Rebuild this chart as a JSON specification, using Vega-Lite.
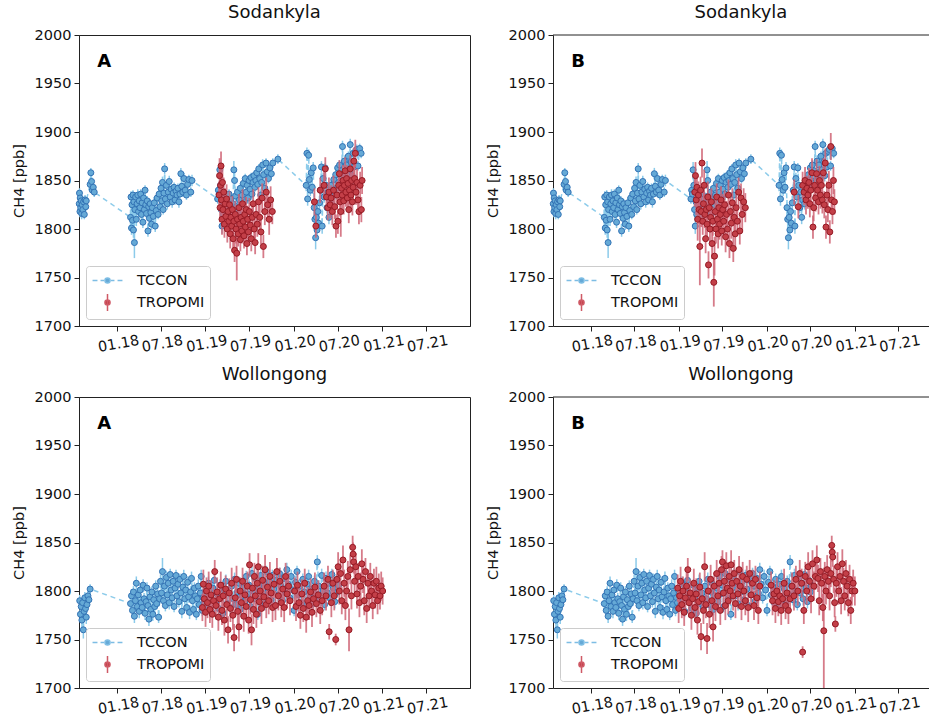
{
  "$schema": "https://vega.github.io/schema/vega-lite/v6.json",
  "padding": {"left": 10, "top": 3, "right": 0, "bottom": 0},
  "config": {
    "font": "DejaVu Sans",
    "view": {"stroke": "#222222", "strokeWidth": 1},
    "axis": {
      "grid": false,
      "domainColor": "#222222",
      "tickColor": "#222222",
      "labelColor": "#111111",
      "titleColor": "#111111",
      "labelFont": "DejaVu Sans",
      "titleFont": "DejaVu Sans",
      "labelFontSize": 14.5,
      "titleFontSize": 14.5,
      "titleFontWeight": "normal",
      "tickSize": 5
    },
    "title": {"font": "DejaVu Sans", "fontSize": 18, "fontWeight": "normal", "color": "#111111", "offset": 5},
    "legend": {
      "title": null, "orient": "bottom-left", "offset": 7, "padding": 5, "rowPadding": 4, "symbolSize": 289, "symbolOffset": 7, "labelOffset": 20,
      "labelFontSize": 14.5, "labelFont": "DejaVu Sans", "labelColor": "#111111", "fillColor": "#ffffff", "strokeColor": "#cccccc", "cornerRadius": 3,
      "symbolStrokeWidth": 1.5, "symbolOpacity": 1
    }
  },
  "datasets": {
    "sod_tccon": [
      {"d":"2017-07-29","v":1826,"e":6},{"d":"2017-07-30","v":1837,"e":5},{"d":"2017-08-01","v":1818,"e":6},{"d":"2017-08-02","v":1832,"e":5},
      {"d":"2017-08-04","v":1822,"e":7},{"d":"2017-08-06","v":1829,"e":5},{"d":"2017-08-08","v":1816,"e":6},{"d":"2017-08-10","v":1825,"e":5},
      {"d":"2017-08-13","v":1820,"e":6},{"d":"2017-08-16","v":1828,"e":4},{"d":"2017-08-19","v":1815,"e":5},{"d":"2017-08-22","v":1830,"e":5},
      {"d":"2017-08-25","v":1823,"e":5},{"d":"2017-08-27","v":1829,"e":4},
      {"d":"2017-09-12","v":1846,"e":6},{"d":"2017-09-15","v":1858,"e":5},{"d":"2017-09-18","v":1849,"e":5},{"d":"2017-09-21","v":1840,"e":4},
      {"d":"2017-09-25","v":1843,"e":6},{"d":"2017-09-29","v":1838,"e":5},
      {"d":"2018-02-26","v":1812,"e":8},{"d":"2018-02-28","v":1833,"e":6},{"d":"2018-03-02","v":1801,"e":7},{"d":"2018-03-04","v":1825,"e":6},
      {"d":"2018-03-06","v":1809,"e":9},{"d":"2018-03-08","v":1835,"e":5},{"d":"2018-03-10","v":1799,"e":8},{"d":"2018-03-12","v":1828,"e":6},
      {"d":"2018-03-14","v":1786,"e":16},{"d":"2018-03-16","v":1820,"e":7},{"d":"2018-03-19","v":1833,"e":5},{"d":"2018-03-22","v":1810,"e":7},
      {"d":"2018-03-25","v":1826,"e":5},{"d":"2018-03-28","v":1835,"e":6},{"d":"2018-03-31","v":1818,"e":6},{"d":"2018-04-03","v":1829,"e":5},
      {"d":"2018-04-06","v":1822,"e":6},{"d":"2018-04-09","v":1836,"e":5},{"d":"2018-04-12","v":1815,"e":6},{"d":"2018-04-15","v":1827,"e":5},
      {"d":"2018-04-18","v":1807,"e":6},{"d":"2018-04-21","v":1832,"e":5},{"d":"2018-04-24","v":1820,"e":5},{"d":"2018-04-27","v":1840,"e":5},
      {"d":"2018-04-30","v":1825,"e":6},{"d":"2018-05-03","v":1816,"e":5},{"d":"2018-05-06","v":1829,"e":5},{"d":"2018-05-09","v":1798,"e":6},
      {"d":"2018-05-12","v":1823,"e":5},{"d":"2018-05-15","v":1811,"e":6},{"d":"2018-05-18","v":1826,"e":5},{"d":"2018-05-21","v":1817,"e":5},
      {"d":"2018-05-24","v":1805,"e":6},{"d":"2018-05-27","v":1822,"e":5},{"d":"2018-05-31","v":1813,"e":5},{"d":"2018-06-04","v":1827,"e":6},
      {"d":"2018-06-08","v":1803,"e":6},{"d":"2018-06-12","v":1819,"e":5},{"d":"2018-06-16","v":1832,"e":6},{"d":"2018-06-20","v":1815,"e":5},
      {"d":"2018-06-24","v":1836,"e":5},{"d":"2018-06-28","v":1823,"e":6},{"d":"2018-07-02","v":1842,"e":6},{"d":"2018-07-05","v":1829,"e":5},
      {"d":"2018-07-08","v":1848,"e":6},{"d":"2018-07-11","v":1820,"e":5},{"d":"2018-07-14","v":1837,"e":5},{"d":"2018-07-17","v":1862,"e":6},
      {"d":"2018-07-20","v":1831,"e":5},{"d":"2018-07-24","v":1845,"e":5},{"d":"2018-07-28","v":1826,"e":6},{"d":"2018-08-01","v":1838,"e":5},
      {"d":"2018-08-05","v":1849,"e":6},{"d":"2018-08-09","v":1833,"e":5},{"d":"2018-08-13","v":1841,"e":5},{"d":"2018-08-17","v":1828,"e":6},
      {"d":"2018-08-21","v":1837,"e":5},{"d":"2018-08-25","v":1843,"e":5},{"d":"2018-08-29","v":1830,"e":5},{"d":"2018-09-02","v":1839,"e":5},
      {"d":"2018-09-06","v":1835,"e":5},{"d":"2018-09-10","v":1842,"e":5},{"d":"2018-09-14","v":1828,"e":6},{"d":"2018-09-18","v":1836,"e":5},
      {"d":"2018-09-22","v":1857,"e":6},{"d":"2018-09-26","v":1844,"e":5},{"d":"2018-09-30","v":1838,"e":5},{"d":"2018-10-05","v":1852,"e":6},
      {"d":"2018-10-10","v":1840,"e":5},{"d":"2018-10-15","v":1835,"e":5},{"d":"2018-10-20","v":1846,"e":5},{"d":"2018-10-25","v":1851,"e":5},
      {"d":"2018-11-02","v":1838,"e":5},{"d":"2018-11-07","v":1850,"e":6},
      {"d":"2019-02-21","v":1831,"e":5},{"d":"2019-02-24","v":1840,"e":6},{"d":"2019-02-27","v":1836,"e":5},{"d":"2019-03-02","v":1861,"e":8},
      {"d":"2019-03-05","v":1845,"e":6},{"d":"2019-03-08","v":1820,"e":7},{"d":"2019-03-11","v":1803,"e":8},{"d":"2019-03-14","v":1828,"e":6},
      {"d":"2019-03-17","v":1815,"e":7},{"d":"2019-03-20","v":1836,"e":6},{"d":"2019-03-24","v":1825,"e":6},{"d":"2019-03-28","v":1833,"e":5},
      {"d":"2019-04-01","v":1812,"e":7},{"d":"2019-04-05","v":1829,"e":6},{"d":"2019-04-09","v":1836,"e":5},{"d":"2019-04-13","v":1822,"e":6},
      {"d":"2019-04-17","v":1831,"e":5},{"d":"2019-04-21","v":1818,"e":6},{"d":"2019-04-25","v":1826,"e":5},{"d":"2019-04-29","v":1861,"e":9},
      {"d":"2019-05-02","v":1850,"e":8},{"d":"2019-05-06","v":1834,"e":6},{"d":"2019-05-10","v":1823,"e":5},{"d":"2019-05-14","v":1838,"e":6},
      {"d":"2019-05-18","v":1816,"e":6},{"d":"2019-05-22","v":1830,"e":5},{"d":"2019-05-26","v":1842,"e":5},{"d":"2019-05-30","v":1825,"e":6},
      {"d":"2019-06-03","v":1835,"e":5},{"d":"2019-06-07","v":1847,"e":5},{"d":"2019-06-11","v":1828,"e":6},{"d":"2019-06-15","v":1852,"e":5},
      {"d":"2019-06-19","v":1838,"e":5},{"d":"2019-06-23","v":1845,"e":5},{"d":"2019-06-27","v":1832,"e":6},{"d":"2019-07-01","v":1850,"e":5},
      {"d":"2019-07-05","v":1841,"e":5},{"d":"2019-07-09","v":1853,"e":5},{"d":"2019-07-13","v":1836,"e":6},{"d":"2019-07-17","v":1848,"e":5},
      {"d":"2019-07-21","v":1855,"e":5},{"d":"2019-07-25","v":1843,"e":5},{"d":"2019-07-29","v":1850,"e":5},{"d":"2019-08-02","v":1858,"e":5},
      {"d":"2019-08-06","v":1846,"e":5},{"d":"2019-08-10","v":1862,"e":5},{"d":"2019-08-14","v":1852,"e":5},{"d":"2019-08-18","v":1835,"e":6},
      {"d":"2019-08-22","v":1848,"e":5},{"d":"2019-08-26","v":1866,"e":6},{"d":"2019-08-30","v":1856,"e":5},{"d":"2019-09-04","v":1842,"e":6},
      {"d":"2019-09-09","v":1868,"e":5},{"d":"2019-09-14","v":1859,"e":5},{"d":"2019-09-19","v":1852,"e":5},{"d":"2019-09-25","v":1863,"e":5},
      {"d":"2019-10-01","v":1857,"e":5},{"d":"2019-10-07","v":1868,"e":5},{"d":"2019-10-28","v":1872,"e":5},
      {"d":"2020-02-22","v":1845,"e":6},{"d":"2020-02-25","v":1878,"e":6},{"d":"2020-02-28","v":1831,"e":7},{"d":"2020-03-03","v":1876,"e":6},
      {"d":"2020-03-06","v":1851,"e":6},{"d":"2020-03-10","v":1840,"e":6},{"d":"2020-03-14","v":1858,"e":7},{"d":"2020-03-18","v":1843,"e":7},
      {"d":"2020-03-22","v":1863,"e":6},{"d":"2020-03-26","v":1822,"e":8},{"d":"2020-03-29","v":1810,"e":10},{"d":"2020-04-01","v":1791,"e":12},
      {"d":"2020-04-04","v":1812,"e":9},{"d":"2020-04-07","v":1799,"e":10},{"d":"2020-04-10","v":1818,"e":8},{"d":"2020-04-13","v":1806,"e":9},
      {"d":"2020-04-17","v":1827,"e":7},{"d":"2020-04-21","v":1840,"e":6},{"d":"2020-04-25","v":1864,"e":6},{"d":"2020-04-28","v":1803,"e":8},
      {"d":"2020-05-02","v":1852,"e":6},{"d":"2020-05-06","v":1833,"e":6},{"d":"2020-05-10","v":1863,"e":5},{"d":"2020-05-14","v":1845,"e":6},
      {"d":"2020-05-18","v":1822,"e":6},{"d":"2020-05-22","v":1838,"e":6},{"d":"2020-05-26","v":1812,"e":7},{"d":"2020-05-30","v":1830,"e":6},
      {"d":"2020-06-03","v":1845,"e":5},{"d":"2020-06-07","v":1826,"e":6},{"d":"2020-06-11","v":1840,"e":5},{"d":"2020-06-15","v":1851,"e":6},
      {"d":"2020-06-19","v":1835,"e":5},{"d":"2020-06-23","v":1856,"e":5},{"d":"2020-06-27","v":1842,"e":6},{"d":"2020-07-01","v":1863,"e":5},
      {"d":"2020-07-05","v":1848,"e":6},{"d":"2020-07-09","v":1866,"e":5},{"d":"2020-07-13","v":1855,"e":5},{"d":"2020-07-17","v":1860,"e":6},
      {"d":"2020-07-21","v":1885,"e":6},{"d":"2020-07-25","v":1849,"e":5},{"d":"2020-07-29","v":1870,"e":6},{"d":"2020-08-02","v":1858,"e":5},
      {"d":"2020-08-06","v":1866,"e":5},{"d":"2020-08-10","v":1852,"e":6},{"d":"2020-08-14","v":1875,"e":5},{"d":"2020-08-18","v":1861,"e":5},
      {"d":"2020-08-22","v":1887,"e":6},{"d":"2020-08-26","v":1869,"e":5},{"d":"2020-08-30","v":1855,"e":6},{"d":"2020-09-03","v":1878,"e":5},
      {"d":"2020-09-08","v":1864,"e":5},{"d":"2020-09-13","v":1880,"e":5},{"d":"2020-09-18","v":1882,"e":5},{"d":"2020-09-23","v":1865,"e":5},
      {"d":"2020-09-30","v":1883,"e":5},{"d":"2020-10-06","v":1878,"e":5}
    ],
    "sod_a": [
      {"d":"2019-02-27","v":1835,"e":14},{"d":"2019-03-01","v":1855,"e":18},{"d":"2019-03-03","v":1822,"e":15},{"d":"2019-03-05","v":1845,"e":16},
      {"d":"2019-03-07","v":1865,"e":15},{"d":"2019-03-09","v":1830,"e":14},{"d":"2019-03-11","v":1810,"e":16},{"d":"2019-03-13","v":1848,"e":18},
      {"d":"2019-03-15","v":1820,"e":14},{"d":"2019-03-18","v":1838,"e":15},{"d":"2019-03-21","v":1805,"e":14},{"d":"2019-03-24","v":1826,"e":16},
      {"d":"2019-03-27","v":1813,"e":13},{"d":"2019-03-30","v":1831,"e":15},{"d":"2019-04-02","v":1800,"e":14},{"d":"2019-04-05","v":1818,"e":16},
      {"d":"2019-04-08","v":1808,"e":15},{"d":"2019-04-11","v":1825,"e":14},{"d":"2019-04-14","v":1795,"e":15},{"d":"2019-04-17","v":1812,"e":13},
      {"d":"2019-04-20","v":1803,"e":16},{"d":"2019-04-23","v":1820,"e":14},{"d":"2019-04-26","v":1790,"e":14},{"d":"2019-04-29","v":1808,"e":15},
      {"d":"2019-05-02","v":1778,"e":12},{"d":"2019-05-05","v":1815,"e":14},{"d":"2019-05-08","v":1800,"e":15},{"d":"2019-05-11","v":1775,"e":28},
      {"d":"2019-05-14","v":1810,"e":14},{"d":"2019-05-17","v":1795,"e":13},{"d":"2019-05-20","v":1822,"e":14},{"d":"2019-05-23","v":1805,"e":15},
      {"d":"2019-05-26","v":1789,"e":12},{"d":"2019-05-29","v":1812,"e":14},{"d":"2019-06-01","v":1798,"e":13},{"d":"2019-06-04","v":1826,"e":15},
      {"d":"2019-06-07","v":1808,"e":14},{"d":"2019-06-10","v":1793,"e":13},{"d":"2019-06-13","v":1815,"e":14},{"d":"2019-06-16","v":1802,"e":15},
      {"d":"2019-06-19","v":1820,"e":13},{"d":"2019-06-22","v":1785,"e":12},{"d":"2019-06-25","v":1810,"e":14},{"d":"2019-06-28","v":1797,"e":13},
      {"d":"2019-07-02","v":1818,"e":14},{"d":"2019-07-06","v":1804,"e":15},{"d":"2019-07-10","v":1790,"e":13},{"d":"2019-07-14","v":1812,"e":14},
      {"d":"2019-07-18","v":1826,"e":15},{"d":"2019-07-22","v":1800,"e":14},{"d":"2019-07-26","v":1786,"e":12},{"d":"2019-07-30","v":1815,"e":14},
      {"d":"2019-08-04","v":1805,"e":13},{"d":"2019-08-09","v":1828,"e":15},{"d":"2019-08-14","v":1812,"e":14},{"d":"2019-08-19","v":1797,"e":13},
      {"d":"2019-08-24","v":1832,"e":15},{"d":"2019-08-29","v":1782,"e":12},{"d":"2019-09-04","v":1818,"e":14},{"d":"2019-09-10","v":1838,"e":15},
      {"d":"2019-09-16","v":1825,"e":14},{"d":"2019-09-22","v":1810,"e":16},{"d":"2019-09-28","v":1830,"e":14},{"d":"2019-10-05","v":1818,"e":13},
      {"d":"2020-03-27","v":1828,"e":14},{"d":"2020-04-02","v":1803,"e":12},{"d":"2020-04-20","v":1840,"e":13},{"d":"2020-05-06","v":1845,"e":14},
      {"d":"2020-05-11","v":1862,"e":12},{"d":"2020-05-16","v":1833,"e":14},{"d":"2020-05-21","v":1822,"e":13},{"d":"2020-05-26","v":1838,"e":15},
      {"d":"2020-05-31","v":1825,"e":14},{"d":"2020-06-04","v":1832,"e":13},{"d":"2020-06-09","v":1818,"e":14},{"d":"2020-06-14","v":1840,"e":15},
      {"d":"2020-06-19","v":1823,"e":13},{"d":"2020-06-24","v":1803,"e":12},{"d":"2020-06-28","v":1835,"e":14},{"d":"2020-07-02","v":1808,"e":13},
      {"d":"2020-07-05","v":1845,"e":15},{"d":"2020-07-08","v":1857,"e":14},{"d":"2020-07-11","v":1828,"e":15},{"d":"2020-07-14","v":1818,"e":26},
      {"d":"2020-07-17","v":1842,"e":15},{"d":"2020-07-20","v":1835,"e":14},{"d":"2020-07-23","v":1850,"e":16},{"d":"2020-07-26","v":1829,"e":14},
      {"d":"2020-07-29","v":1845,"e":15},{"d":"2020-08-01","v":1860,"e":14},{"d":"2020-08-04","v":1838,"e":15},{"d":"2020-08-07","v":1852,"e":14},
      {"d":"2020-08-10","v":1832,"e":13},{"d":"2020-08-13","v":1847,"e":15},{"d":"2020-08-16","v":1820,"e":14},{"d":"2020-08-19","v":1840,"e":15},
      {"d":"2020-08-22","v":1862,"e":14},{"d":"2020-08-25","v":1835,"e":13},{"d":"2020-08-28","v":1850,"e":15},{"d":"2020-08-31","v":1828,"e":14},
      {"d":"2020-09-03","v":1843,"e":15},{"d":"2020-09-06","v":1870,"e":14},{"d":"2020-09-09","v":1852,"e":15},{"d":"2020-09-12","v":1878,"e":14},
      {"d":"2020-09-15","v":1838,"e":13},{"d":"2020-09-19","v":1848,"e":14},{"d":"2020-09-23","v":1830,"e":15},{"d":"2020-09-27","v":1818,"e":13},
      {"d":"2020-10-02","v":1845,"e":14},{"d":"2020-10-07","v":1820,"e":13},{"d":"2020-10-10","v":1850,"e":14}
    ],
    "sod_b": [
      {"d":"2019-03-09","v":1838,"e":15},{"d":"2019-03-12","v":1855,"e":14},{"d":"2019-03-15","v":1830,"e":16},{"d":"2019-03-18","v":1843,"e":15},
      {"d":"2019-03-21","v":1810,"e":22},{"d":"2019-03-24","v":1835,"e":14},{"d":"2019-03-27","v":1820,"e":15},{"d":"2019-03-30","v":1782,"e":40},
      {"d":"2019-04-02","v":1840,"e":14},{"d":"2019-04-05","v":1818,"e":16},{"d":"2019-04-08","v":1868,"e":15},{"d":"2019-04-11","v":1808,"e":14},
      {"d":"2019-04-14","v":1826,"e":15},{"d":"2019-04-17","v":1845,"e":16},{"d":"2019-04-20","v":1815,"e":14},{"d":"2019-04-23","v":1790,"e":15},
      {"d":"2019-04-26","v":1820,"e":14},{"d":"2019-04-29","v":1805,"e":15},{"d":"2019-05-02","v":1833,"e":16},{"d":"2019-05-05","v":1763,"e":14},
      {"d":"2019-05-08","v":1822,"e":15},{"d":"2019-05-11","v":1800,"e":14},{"d":"2019-05-14","v":1812,"e":16},{"d":"2019-05-17","v":1828,"e":14},
      {"d":"2019-05-20","v":1785,"e":16},{"d":"2019-05-23","v":1808,"e":15},{"d":"2019-05-27","v":1745,"e":25},{"d":"2019-05-30","v":1772,"e":20},
      {"d":"2019-06-02","v":1818,"e":16},{"d":"2019-06-05","v":1800,"e":15},{"d":"2019-06-08","v":1833,"e":14},{"d":"2019-06-11","v":1810,"e":16},
      {"d":"2019-06-14","v":1795,"e":15},{"d":"2019-06-17","v":1822,"e":14},{"d":"2019-06-20","v":1805,"e":16},{"d":"2019-06-23","v":1815,"e":15},
      {"d":"2019-06-26","v":1830,"e":14},{"d":"2019-06-29","v":1798,"e":15},{"d":"2019-07-03","v":1820,"e":16},{"d":"2019-07-07","v":1808,"e":14},
      {"d":"2019-07-11","v":1825,"e":15},{"d":"2019-07-15","v":1792,"e":16},{"d":"2019-07-19","v":1815,"e":14},{"d":"2019-07-23","v":1800,"e":15},
      {"d":"2019-07-27","v":1835,"e":16},{"d":"2019-07-31","v":1785,"e":15},{"d":"2019-08-04","v":1818,"e":14},{"d":"2019-08-08","v":1806,"e":16},
      {"d":"2019-08-12","v":1827,"e":15},{"d":"2019-08-16","v":1780,"e":14},{"d":"2019-08-20","v":1812,"e":15},{"d":"2019-08-24","v":1795,"e":16},
      {"d":"2019-08-28","v":1822,"e":15},{"d":"2019-09-02","v":1808,"e":14},{"d":"2019-09-07","v":1838,"e":15},{"d":"2019-09-12","v":1798,"e":14},
      {"d":"2019-09-17","v":1832,"e":15},{"d":"2019-09-22","v":1815,"e":16},{"d":"2019-09-28","v":1828,"e":14},{"d":"2019-10-05","v":1822,"e":15},
      {"d":"2020-04-25","v":1838,"e":13},{"d":"2020-05-12","v":1823,"e":12},{"d":"2020-05-30","v":1845,"e":14},{"d":"2020-06-05","v":1838,"e":13},
      {"d":"2020-06-09","v":1850,"e":14},{"d":"2020-06-13","v":1830,"e":15},{"d":"2020-06-17","v":1842,"e":13},{"d":"2020-06-21","v":1835,"e":14},
      {"d":"2020-06-25","v":1848,"e":15},{"d":"2020-06-29","v":1826,"e":14},{"d":"2020-07-03","v":1840,"e":13},{"d":"2020-07-08","v":1858,"e":15},
      {"d":"2020-07-12","v":1802,"e":12},{"d":"2020-07-15","v":1822,"e":14},{"d":"2020-07-19","v":1845,"e":15},{"d":"2020-07-23","v":1832,"e":14},
      {"d":"2020-07-27","v":1857,"e":15},{"d":"2020-07-31","v":1840,"e":14},{"d":"2020-08-04","v":1828,"e":13},{"d":"2020-08-08","v":1850,"e":15},
      {"d":"2020-08-12","v":1835,"e":14},{"d":"2020-08-16","v":1845,"e":15},{"d":"2020-08-20","v":1830,"e":14},{"d":"2020-08-24","v":1858,"e":15},
      {"d":"2020-08-28","v":1825,"e":14},{"d":"2020-09-01","v":1868,"e":15},{"d":"2020-09-04","v":1802,"e":12},{"d":"2020-09-08","v":1835,"e":14},
      {"d":"2020-09-12","v":1820,"e":13},{"d":"2020-09-16","v":1845,"e":15},{"d":"2020-09-20","v":1797,"e":12},{"d":"2020-09-24","v":1885,"e":14},
      {"d":"2020-09-27","v":1830,"e":14},{"d":"2020-10-01","v":1818,"e":13},{"d":"2020-10-05","v":1850,"e":14},{"d":"2020-10-09","v":1828,"e":13}
    ],
    "wol_tccon": [
      {"d":"2017-07-31","v":1790,"e":6},{"d":"2017-08-03","v":1776,"e":7},{"d":"2017-08-06","v":1784,"e":6},{"d":"2017-08-09","v":1770,"e":8},
      {"d":"2017-08-12","v":1788,"e":6},{"d":"2017-08-15","v":1760,"e":9},{"d":"2017-08-18","v":1779,"e":7},{"d":"2017-08-21","v":1793,"e":6},
      {"d":"2017-08-24","v":1782,"e":6},{"d":"2017-08-27","v":1773,"e":7},{"d":"2017-08-30","v":1786,"e":6},{"d":"2017-09-03","v":1795,"e":5},
      {"d":"2017-09-07","v":1791,"e":5},{"d":"2017-09-12","v":1802,"e":5},
      {"d":"2018-02-26","v":1787,"e":6},{"d":"2018-03-02","v":1795,"e":7},{"d":"2018-03-06","v":1780,"e":6},{"d":"2018-03-10","v":1799,"e":6},
      {"d":"2018-03-14","v":1774,"e":7},{"d":"2018-03-18","v":1790,"e":6},{"d":"2018-03-22","v":1808,"e":7},{"d":"2018-03-26","v":1784,"e":6},
      {"d":"2018-03-30","v":1796,"e":6},{"d":"2018-04-03","v":1779,"e":7},{"d":"2018-04-07","v":1801,"e":6},{"d":"2018-04-11","v":1788,"e":6},
      {"d":"2018-04-15","v":1783,"e":7},{"d":"2018-04-19","v":1806,"e":6},{"d":"2018-04-23","v":1792,"e":6},{"d":"2018-04-27","v":1777,"e":7},
      {"d":"2018-05-01","v":1789,"e":6},{"d":"2018-05-05","v":1803,"e":6},{"d":"2018-05-09","v":1785,"e":6},{"d":"2018-05-13","v":1771,"e":7},
      {"d":"2018-05-17","v":1794,"e":6},{"d":"2018-05-21","v":1781,"e":6},{"d":"2018-05-25","v":1799,"e":6},{"d":"2018-05-29","v":1776,"e":7},
      {"d":"2018-06-02","v":1791,"e":6},{"d":"2018-06-06","v":1784,"e":6},{"d":"2018-06-10","v":1805,"e":6},{"d":"2018-06-14","v":1787,"e":6},
      {"d":"2018-06-18","v":1797,"e":7},{"d":"2018-06-22","v":1773,"e":6},{"d":"2018-06-26","v":1792,"e":6},{"d":"2018-06-30","v":1810,"e":7},
      {"d":"2018-07-04","v":1798,"e":6},{"d":"2018-07-08","v":1820,"e":14},{"d":"2018-07-12","v":1790,"e":6},{"d":"2018-07-16","v":1805,"e":7},
      {"d":"2018-07-20","v":1785,"e":6},{"d":"2018-07-24","v":1814,"e":7},{"d":"2018-07-28","v":1796,"e":6},{"d":"2018-08-01","v":1808,"e":6},
      {"d":"2018-08-05","v":1788,"e":7},{"d":"2018-08-09","v":1817,"e":6},{"d":"2018-08-13","v":1801,"e":6},{"d":"2018-08-17","v":1793,"e":7},
      {"d":"2018-08-21","v":1810,"e":6},{"d":"2018-08-25","v":1784,"e":6},{"d":"2018-08-29","v":1803,"e":7},{"d":"2018-09-02","v":1816,"e":6},
      {"d":"2018-09-06","v":1795,"e":6},{"d":"2018-09-10","v":1807,"e":7},{"d":"2018-09-14","v":1789,"e":6},{"d":"2018-09-18","v":1812,"e":6},
      {"d":"2018-09-22","v":1798,"e":6},{"d":"2018-09-26","v":1779,"e":7},{"d":"2018-09-30","v":1804,"e":6},{"d":"2018-10-04","v":1815,"e":7},
      {"d":"2018-10-08","v":1792,"e":6},{"d":"2018-10-12","v":1801,"e":6},{"d":"2018-10-16","v":1783,"e":7},{"d":"2018-10-20","v":1809,"e":6},
      {"d":"2018-10-24","v":1794,"e":6},{"d":"2018-10-28","v":1778,"e":7},{"d":"2018-11-01","v":1799,"e":6},{"d":"2018-11-05","v":1813,"e":7},
      {"d":"2018-11-09","v":1790,"e":6},{"d":"2018-11-13","v":1781,"e":6},{"d":"2018-11-17","v":1803,"e":6},{"d":"2018-11-21","v":1795,"e":7},
      {"d":"2018-11-25","v":1776,"e":6},{"d":"2018-11-29","v":1792,"e":6},{"d":"2018-12-03","v":1805,"e":7},{"d":"2018-12-07","v":1786,"e":6},
      {"d":"2018-12-11","v":1798,"e":6},{"d":"2018-12-15","v":1815,"e":7},{"d":"2018-12-19","v":1780,"e":6},{"d":"2018-12-23","v":1793,"e":6},
      {"d":"2018-12-27","v":1788,"e":7},{"d":"2019-01-02","v":1800,"e":6},{"d":"2019-01-08","v":1785,"e":6},{"d":"2019-01-14","v":1808,"e":7},
      {"d":"2019-01-20","v":1792,"e":6},{"d":"2019-01-26","v":1779,"e":6},{"d":"2019-02-01","v":1803,"e":7},{"d":"2019-02-07","v":1811,"e":6},
      {"d":"2019-02-13","v":1789,"e":6},{"d":"2019-02-19","v":1797,"e":7},{"d":"2019-02-25","v":1782,"e":6},{"d":"2019-03-03","v":1806,"e":6},
      {"d":"2019-03-09","v":1794,"e":6},{"d":"2019-03-15","v":1777,"e":7},{"d":"2019-03-21","v":1801,"e":6},{"d":"2019-03-27","v":1810,"e":7},
      {"d":"2019-04-02","v":1787,"e":6},{"d":"2019-04-08","v":1798,"e":6},{"d":"2019-04-14","v":1783,"e":7},{"d":"2019-04-20","v":1805,"e":6},
      {"d":"2019-04-26","v":1792,"e":6},{"d":"2019-05-02","v":1812,"e":7},{"d":"2019-05-08","v":1786,"e":6},{"d":"2019-05-14","v":1799,"e":6},
      {"d":"2019-05-20","v":1808,"e":7},{"d":"2019-05-26","v":1781,"e":6},{"d":"2019-06-01","v":1795,"e":6},{"d":"2019-06-07","v":1803,"e":7},
      {"d":"2019-06-13","v":1789,"e":6},{"d":"2019-06-19","v":1815,"e":6},{"d":"2019-06-25","v":1797,"e":7},{"d":"2019-07-01","v":1806,"e":6},
      {"d":"2019-07-07","v":1784,"e":6},{"d":"2019-07-13","v":1818,"e":7},{"d":"2019-07-19","v":1800,"e":6},{"d":"2019-07-25","v":1792,"e":6},
      {"d":"2019-07-31","v":1812,"e":7},{"d":"2019-08-06","v":1776,"e":6},{"d":"2019-08-12","v":1803,"e":6},{"d":"2019-08-18","v":1816,"e":7},
      {"d":"2019-08-24","v":1795,"e":6},{"d":"2019-08-30","v":1808,"e":6},{"d":"2019-09-05","v":1787,"e":7},{"d":"2019-09-11","v":1820,"e":6},
      {"d":"2019-09-17","v":1799,"e":6},{"d":"2019-09-23","v":1810,"e":7},{"d":"2019-09-29","v":1791,"e":6},{"d":"2019-10-05","v":1816,"e":6},
      {"d":"2019-10-11","v":1802,"e":7},{"d":"2019-10-17","v":1785,"e":6},{"d":"2019-10-23","v":1811,"e":6},{"d":"2019-10-29","v":1796,"e":7},
      {"d":"2019-11-04","v":1818,"e":6},{"d":"2019-11-10","v":1805,"e":6},{"d":"2019-11-16","v":1790,"e":7},{"d":"2019-11-22","v":1813,"e":6},
      {"d":"2019-11-28","v":1798,"e":6},{"d":"2019-12-04","v":1822,"e":7},{"d":"2019-12-10","v":1807,"e":6},{"d":"2019-12-16","v":1793,"e":6},
      {"d":"2019-12-22","v":1815,"e":7},{"d":"2019-12-28","v":1801,"e":6},{"d":"2020-01-03","v":1780,"e":6},{"d":"2020-01-09","v":1809,"e":7},
      {"d":"2020-01-15","v":1820,"e":6},{"d":"2020-01-21","v":1796,"e":6},{"d":"2020-01-27","v":1805,"e":7},{"d":"2020-02-02","v":1788,"e":6},
      {"d":"2020-02-08","v":1812,"e":6},{"d":"2020-02-14","v":1799,"e":7},{"d":"2020-02-20","v":1784,"e":6},{"d":"2020-02-26","v":1807,"e":6},
      {"d":"2020-03-03","v":1815,"e":7},{"d":"2020-03-09","v":1793,"e":6},{"d":"2020-03-15","v":1802,"e":6},{"d":"2020-03-21","v":1787,"e":7},
      {"d":"2020-03-27","v":1810,"e":6},{"d":"2020-04-02","v":1797,"e":6},{"d":"2020-04-08","v":1830,"e":7},{"d":"2020-04-14","v":1805,"e":6},
      {"d":"2020-04-20","v":1791,"e":6},{"d":"2020-04-26","v":1816,"e":7},{"d":"2020-05-02","v":1800,"e":6},{"d":"2020-05-08","v":1786,"e":6},
      {"d":"2020-05-14","v":1813,"e":7},{"d":"2020-05-20","v":1798,"e":6},{"d":"2020-05-26","v":1808,"e":6},{"d":"2020-06-01","v":1792,"e":7},
      {"d":"2020-06-07","v":1817,"e":6},{"d":"2020-06-13","v":1803,"e":6},{"d":"2020-06-19","v":1789,"e":7},{"d":"2020-06-25","v":1811,"e":6},
      {"d":"2020-07-01","v":1799,"e":6},{"d":"2020-07-05","v":1806,"e":6}
    ],
    "wol_a": [
      {"d":"2018-12-20","v":1783,"e":14},{"d":"2018-12-24","v":1807,"e":15},{"d":"2018-12-28","v":1792,"e":14},{"d":"2019-01-02","v":1778,"e":15},
      {"d":"2019-01-06","v":1800,"e":14},{"d":"2019-01-10","v":1788,"e":16},{"d":"2019-01-15","v":1805,"e":15},{"d":"2019-01-20","v":1781,"e":14},
      {"d":"2019-01-25","v":1796,"e":15},{"d":"2019-01-30","v":1776,"e":14},{"d":"2019-02-04","v":1790,"e":15},{"d":"2019-02-09","v":1820,"e":12},
      {"d":"2019-02-14","v":1785,"e":14},{"d":"2019-02-19","v":1799,"e":15},{"d":"2019-02-24","v":1773,"e":14},{"d":"2019-03-01","v":1792,"e":15},
      {"d":"2019-03-06","v":1806,"e":14},{"d":"2019-03-11","v":1780,"e":15},{"d":"2019-03-16","v":1795,"e":14},{"d":"2019-03-21","v":1770,"e":16},
      {"d":"2019-03-26","v":1802,"e":14},{"d":"2019-03-31","v":1786,"e":15},{"d":"2019-04-05","v":1760,"e":14},{"d":"2019-04-10","v":1798,"e":15},
      {"d":"2019-04-15","v":1782,"e":14},{"d":"2019-04-20","v":1808,"e":16},{"d":"2019-04-25","v":1775,"e":15},{"d":"2019-04-30","v":1752,"e":14},
      {"d":"2019-05-05","v":1793,"e":15},{"d":"2019-05-10","v":1812,"e":14},{"d":"2019-05-15","v":1779,"e":16},{"d":"2019-05-20","v":1763,"e":15},
      {"d":"2019-05-25","v":1800,"e":14},{"d":"2019-05-30","v":1788,"e":15},{"d":"2019-06-04","v":1810,"e":14},{"d":"2019-06-09","v":1774,"e":16},
      {"d":"2019-06-14","v":1796,"e":15},{"d":"2019-06-19","v":1784,"e":14},{"d":"2019-06-24","v":1805,"e":15},{"d":"2019-06-29","v":1770,"e":14},
      {"d":"2019-07-03","v":1827,"e":12},{"d":"2019-07-07","v":1791,"e":15},{"d":"2019-07-11","v":1760,"e":16},{"d":"2019-07-15","v":1803,"e":14},
      {"d":"2019-07-19","v":1781,"e":15},{"d":"2019-07-23","v":1815,"e":14},{"d":"2019-07-27","v":1795,"e":15},{"d":"2019-07-31","v":1776,"e":14},
      {"d":"2019-08-04","v":1808,"e":15},{"d":"2019-08-08","v":1825,"e":14},{"d":"2019-08-12","v":1789,"e":15},{"d":"2019-08-16","v":1800,"e":14},
      {"d":"2019-08-21","v":1782,"e":16},{"d":"2019-08-26","v":1811,"e":15},{"d":"2019-08-31","v":1794,"e":14},{"d":"2019-09-05","v":1822,"e":15},
      {"d":"2019-09-10","v":1786,"e":14},{"d":"2019-09-15","v":1804,"e":15},{"d":"2019-09-20","v":1790,"e":14},{"d":"2019-09-25","v":1815,"e":15},
      {"d":"2019-09-30","v":1798,"e":14},{"d":"2019-10-06","v":1783,"e":15},{"d":"2019-10-12","v":1807,"e":14},{"d":"2019-10-18","v":1785,"e":15},
      {"d":"2019-10-24","v":1820,"e":14},{"d":"2019-10-30","v":1795,"e":15},{"d":"2019-11-05","v":1810,"e":14},{"d":"2019-11-11","v":1788,"e":15},
      {"d":"2019-11-17","v":1802,"e":14},{"d":"2019-11-23","v":1783,"e":15},{"d":"2019-11-29","v":1815,"e":14},{"d":"2019-12-05","v":1797,"e":15},
      {"d":"2019-12-11","v":1805,"e":14},{"d":"2019-12-17","v":1790,"e":15},{"d":"2020-01-05","v":1800,"e":14},{"d":"2020-01-11","v":1784,"e":15},
      {"d":"2020-01-17","v":1806,"e":14},{"d":"2020-01-23","v":1788,"e":15},{"d":"2020-01-29","v":1775,"e":14},{"d":"2020-02-04","v":1797,"e":15},
      {"d":"2020-02-10","v":1782,"e":14},{"d":"2020-02-16","v":1808,"e":15},{"d":"2020-02-22","v":1773,"e":16},{"d":"2020-02-28","v":1790,"e":14},
      {"d":"2020-03-05","v":1785,"e":15},{"d":"2020-03-11","v":1799,"e":14},{"d":"2020-03-17","v":1778,"e":15},{"d":"2020-03-23","v":1792,"e":14},
      {"d":"2020-03-29","v":1804,"e":15},{"d":"2020-04-04","v":1787,"e":14},{"d":"2020-04-12","v":1796,"e":15},{"d":"2020-04-20","v":1780,"e":14},
      {"d":"2020-04-28","v":1790,"e":15},{"d":"2020-05-06","v":1805,"e":14},{"d":"2020-05-14","v":1795,"e":15},{"d":"2020-05-22","v":1812,"e":14},
      {"d":"2020-05-27","v":1758,"e":8},{"d":"2020-06-05","v":1788,"e":15},{"d":"2020-06-11","v":1808,"e":14},{"d":"2020-06-17","v":1795,"e":15},
      {"d":"2020-06-23","v":1750,"e":6},{"d":"2020-06-28","v":1812,"e":14},{"d":"2020-07-03","v":1825,"e":15},{"d":"2020-07-08","v":1800,"e":14},
      {"d":"2020-07-13","v":1818,"e":15},{"d":"2020-07-18","v":1790,"e":14},{"d":"2020-07-23","v":1832,"e":15},{"d":"2020-07-28","v":1808,"e":14},
      {"d":"2020-08-02","v":1785,"e":15},{"d":"2020-08-07","v":1800,"e":14},{"d":"2020-08-12","v":1815,"e":16},{"d":"2020-08-17","v":1760,"e":22},
      {"d":"2020-08-22","v":1822,"e":15},{"d":"2020-08-27","v":1795,"e":14},{"d":"2020-09-01","v":1845,"e":12},{"d":"2020-09-03","v":1838,"e":12},
      {"d":"2020-09-05","v":1830,"e":12},{"d":"2020-09-09","v":1810,"e":15},{"d":"2020-09-14","v":1825,"e":14},{"d":"2020-09-19","v":1797,"e":15},
      {"d":"2020-09-24","v":1815,"e":14},{"d":"2020-09-29","v":1788,"e":15},{"d":"2020-10-04","v":1805,"e":14},{"d":"2020-10-09","v":1828,"e":15},
      {"d":"2020-10-14","v":1812,"e":14},{"d":"2020-10-19","v":1790,"e":15},{"d":"2020-10-24","v":1820,"e":14},{"d":"2020-10-29","v":1782,"e":15},
      {"d":"2020-11-03","v":1808,"e":14},{"d":"2020-11-08","v":1795,"e":15},{"d":"2020-11-13","v":1815,"e":14},{"d":"2020-11-18","v":1800,"e":15},
      {"d":"2020-11-23","v":1785,"e":14},{"d":"2020-11-28","v":1808,"e":15},{"d":"2020-12-03","v":1796,"e":14},{"d":"2020-12-08","v":1810,"e":15},
      {"d":"2020-12-13","v":1790,"e":14},{"d":"2020-12-18","v":1803,"e":15},{"d":"2020-12-23","v":1795,"e":14},{"d":"2020-12-28","v":1805,"e":15},
      {"d":"2021-01-03","v":1800,"e":14}
    ],
    "wol_b": [
      {"d":"2018-12-28","v":1803,"e":14},{"d":"2019-01-01","v":1782,"e":15},{"d":"2019-01-05","v":1795,"e":14},{"d":"2019-01-09","v":1810,"e":15},
      {"d":"2019-01-14","v":1786,"e":14},{"d":"2019-01-19","v":1800,"e":15},{"d":"2019-01-24","v":1778,"e":14},{"d":"2019-01-29","v":1793,"e":15},
      {"d":"2019-02-03","v":1805,"e":14},{"d":"2019-02-08","v":1822,"e":12},{"d":"2019-02-13","v":1788,"e":15},{"d":"2019-02-18","v":1798,"e":14},
      {"d":"2019-02-23","v":1775,"e":15},{"d":"2019-02-28","v":1792,"e":14},{"d":"2019-03-05","v":1808,"e":15},{"d":"2019-03-10","v":1783,"e":14},
      {"d":"2019-03-15","v":1797,"e":16},{"d":"2019-03-20","v":1770,"e":15},{"d":"2019-03-25","v":1789,"e":14},{"d":"2019-03-30","v":1804,"e":15},
      {"d":"2019-04-04","v":1753,"e":14},{"d":"2019-04-09","v":1792,"e":15},{"d":"2019-04-14","v":1780,"e":14},{"d":"2019-04-19","v":1825,"e":15},
      {"d":"2019-04-24","v":1786,"e":14},{"d":"2019-04-29","v":1751,"e":16},{"d":"2019-05-04","v":1800,"e":15},{"d":"2019-05-09","v":1776,"e":14},
      {"d":"2019-05-14","v":1812,"e":15},{"d":"2019-05-19","v":1790,"e":14},{"d":"2019-05-24","v":1763,"e":15},{"d":"2019-05-29","v":1805,"e":14},
      {"d":"2019-06-03","v":1784,"e":15},{"d":"2019-06-08","v":1818,"e":14},{"d":"2019-06-13","v":1795,"e":15},{"d":"2019-06-18","v":1808,"e":14},
      {"d":"2019-06-23","v":1780,"e":15},{"d":"2019-06-28","v":1822,"e":14},{"d":"2019-07-02","v":1830,"e":12},{"d":"2019-07-06","v":1798,"e":15},
      {"d":"2019-07-10","v":1810,"e":14},{"d":"2019-07-14","v":1785,"e":15},{"d":"2019-07-18","v":1826,"e":14},{"d":"2019-07-22","v":1803,"e":15},
      {"d":"2019-07-26","v":1790,"e":14},{"d":"2019-07-30","v":1815,"e":15},{"d":"2019-08-03","v":1800,"e":14},{"d":"2019-08-07","v":1827,"e":15},
      {"d":"2019-08-11","v":1808,"e":14},{"d":"2019-08-15","v":1795,"e":15},{"d":"2019-08-20","v":1818,"e":14},{"d":"2019-08-25","v":1787,"e":15},
      {"d":"2019-08-30","v":1810,"e":14},{"d":"2019-09-04","v":1797,"e":15},{"d":"2019-09-09","v":1822,"e":14},{"d":"2019-09-14","v":1805,"e":15},
      {"d":"2019-09-19","v":1784,"e":14},{"d":"2019-09-24","v":1815,"e":15},{"d":"2019-09-29","v":1800,"e":14},{"d":"2019-10-05","v":1790,"e":15},
      {"d":"2019-10-11","v":1812,"e":14},{"d":"2019-10-17","v":1783,"e":15},{"d":"2019-10-23","v":1818,"e":14},{"d":"2019-10-29","v":1796,"e":15},
      {"d":"2019-11-04","v":1808,"e":14},{"d":"2019-11-10","v":1785,"e":15},{"d":"2019-11-16","v":1812,"e":14},{"d":"2019-11-22","v":1793,"e":15},
      {"d":"2019-11-28","v":1780,"e":14},{"d":"2019-12-04","v":1805,"e":15},{"d":"2020-01-20","v":1806,"e":14},{"d":"2020-01-26","v":1790,"e":15},
      {"d":"2020-02-01","v":1797,"e":14},{"d":"2020-02-07","v":1782,"e":15},{"d":"2020-02-13","v":1800,"e":14},{"d":"2020-02-19","v":1789,"e":15},
      {"d":"2020-02-25","v":1795,"e":14},{"d":"2020-03-02","v":1780,"e":15},{"d":"2020-03-08","v":1792,"e":14},{"d":"2020-03-14","v":1808,"e":15},
      {"d":"2020-03-20","v":1785,"e":14},{"d":"2020-03-26","v":1798,"e":15},{"d":"2020-04-01","v":1780,"e":14},{"d":"2020-04-08","v":1792,"e":15},
      {"d":"2020-04-16","v":1805,"e":14},{"d":"2020-04-24","v":1795,"e":15},{"d":"2020-05-02","v":1812,"e":14},{"d":"2020-05-10","v":1800,"e":15},
      {"d":"2020-05-18","v":1818,"e":14},{"d":"2020-05-26","v":1808,"e":15},{"d":"2020-05-30","v":1737,"e":6},{"d":"2020-06-04","v":1780,"e":14},
      {"d":"2020-06-10","v":1815,"e":15},{"d":"2020-06-16","v":1800,"e":14},{"d":"2020-06-22","v":1825,"e":15},{"d":"2020-06-28","v":1810,"e":14},
      {"d":"2020-07-04","v":1792,"e":15},{"d":"2020-07-10","v":1828,"e":14},{"d":"2020-07-16","v":1805,"e":15},{"d":"2020-07-22","v":1815,"e":14},
      {"d":"2020-07-28","v":1832,"e":15},{"d":"2020-08-02","v":1813,"e":14},{"d":"2020-08-07","v":1790,"e":15},{"d":"2020-08-12","v":1820,"e":14},
      {"d":"2020-08-17","v":1808,"e":15},{"d":"2020-08-22","v":1783,"e":14},{"d":"2020-08-26","v":1759,"e":65},{"d":"2020-08-30","v":1815,"e":15},
      {"d":"2020-09-04","v":1800,"e":14},{"d":"2020-09-09","v":1822,"e":15},{"d":"2020-09-14","v":1810,"e":14},{"d":"2020-09-19","v":1795,"e":15},
      {"d":"2020-09-24","v":1818,"e":14},{"d":"2020-09-28","v":1847,"e":10},{"d":"2020-09-30","v":1840,"e":10},{"d":"2020-10-02","v":1835,"e":10},
      {"d":"2020-10-06","v":1812,"e":14},{"d":"2020-10-10","v":1788,"e":15},{"d":"2020-10-13","v":1766,"e":8},{"d":"2020-10-17","v":1808,"e":14},
      {"d":"2020-10-22","v":1825,"e":15},{"d":"2020-10-27","v":1800,"e":14},{"d":"2020-11-01","v":1815,"e":15},{"d":"2020-11-06","v":1790,"e":14},
      {"d":"2020-11-11","v":1828,"e":15},{"d":"2020-11-16","v":1810,"e":14},{"d":"2020-11-21","v":1795,"e":15},{"d":"2020-11-26","v":1818,"e":14},
      {"d":"2020-12-01","v":1805,"e":15},{"d":"2020-12-06","v":1788,"e":14},{"d":"2020-12-11","v":1812,"e":15},{"d":"2020-12-16","v":1780,"e":14},
      {"d":"2020-12-21","v":1800,"e":15},{"d":"2020-12-26","v":1808,"e":14},{"d":"2021-01-02","v":1800,"e":15}
    ],
    "legend_items": [{"src": "TCCON"}, {"src": "TROPOMI"}]
  },
  "columns": 2,
  "spacing": {"row": 10, "column": 14},
  "resolve": {
    "scale": {"x": "independent", "y": "independent", "shape": "independent", "fill": "independent", "stroke": "independent"},
    "legend": {"shape": "independent", "fill": "independent", "stroke": "independent"}
  },
  "concat": [
    {
      "title": "Sodankyla",
      "width": 391, "height": 291,
      "layer": [
        {"data": {"name": "sod_tccon"}, "mark": {"type": "errorbar", "color": "#8ccbea", "thickness": 1.5},
         "encoding": {
           "x": {"field": "d", "type": "temporal", "title": null,
                 "scale": {"type": "utc", "domain": [{"year": 2017, "month": 7, "date": 28, "utc": true}, {"year": 2021, "month": 12, "date": 30, "utc": true}]},
                 "axis": {"values": [{"year": 2018, "month": 1, "date": 1, "utc": true}, {"year": 2018, "month": 7, "date": 1, "utc": true}, {"year": 2019, "month": 1, "date": 1, "utc": true}, {"year": 2019, "month": 7, "date": 1, "utc": true}, {"year": 2020, "month": 1, "date": 1, "utc": true}, {"year": 2020, "month": 7, "date": 1, "utc": true}, {"year": 2021, "month": 1, "date": 1, "utc": true}, {"year": 2021, "month": 7, "date": 1, "utc": true}],
                          "format": "%m.%y", "labelAngle": -10, "labelAlign": "center", "labelBaseline": "top", "labelPadding": 6, "labelOverlap": false, "labelFlush": false}},
           "y": {"field": "v", "type": "quantitative", "title": "CH4 [ppb]",
                 "scale": {"domain": [1700, 2000], "nice": false, "zero": false, "clamp": true},
                 "axis": {"values": [1700, 1750, 1800, 1850, 1900, 1950, 2000], "format": "d", "labelPadding": 3, "titlePadding": 8}},
           "yError": {"field": "e"}}},
        {"data": {"name": "sod_tccon"}, "mark": {"type": "line", "color": "#8ccbea", "strokeWidth": 1.5, "strokeDash": [5, 4]},
         "encoding": {"x": {"field": "d", "type": "temporal", "title": null}, "y": {"field": "v", "type": "quantitative", "title": "CH4 [ppb]"}}},
        {"data": {"name": "sod_tccon"}, "mark": {"type": "point", "shape": "circle", "filled": true, "size": 36, "fill": "#65a9d6", "stroke": "#3373b5", "strokeWidth": 1, "opacity": 1},
         "encoding": {"x": {"field": "d", "type": "temporal", "title": null}, "y": {"field": "v", "type": "quantitative", "title": "CH4 [ppb]"}}},
        {"data": {"name": "sod_a"}, "mark": {"type": "errorbar", "color": "#cf6474", "thickness": 1.8, "opacity": 0.85},
         "encoding": {"x": {"field": "d", "type": "temporal", "title": null}, "y": {"field": "v", "type": "quantitative", "title": "CH4 [ppb]"}, "yError": {"field": "e"}}},
        {"data": {"name": "sod_a"}, "mark": {"type": "point", "shape": "circle", "filled": true, "size": 36, "fill": "#c33f48", "stroke": "#951a24", "strokeWidth": 1, "opacity": 1},
         "encoding": {"x": {"field": "d", "type": "temporal", "title": null}, "y": {"field": "v", "type": "quantitative", "title": "CH4 [ppb]"}}},
        {"data": {"name": "legend_items"}, "mark": {"type": "point", "opacity": 0, "filled": true},
         "encoding": {
           "shape": {"field": "src", "type": "nominal", "scale": {"domain": ["TCCON", "TROPOMI"], "range": ["M-1.76,0H-1.18M-0.82,0H-0.41M0.41,0H0.82M1.18,0H1.76M-0.3,0A0.3,0.3,0,1,0,0.3,0A0.3,0.3,0,1,0,-0.3,0Z", "M0,-1V1M-0.3,0A0.3,0.3,0,1,0,0.3,0A0.3,0.3,0,1,0,-0.3,0Z"]}, "legend": {"title": null}},
           "fill": {"field": "src", "type": "nominal", "scale": {"domain": ["TCCON", "TROPOMI"], "range": ["#65a9d6", "#c33f48"]}, "legend": {"title": null}},
           "stroke": {"field": "src", "type": "nominal", "scale": {"domain": ["TCCON", "TROPOMI"], "range": ["#7dbde4", "#cf5a66"]}, "legend": {"title": null}}}},
        {"data": {"values": [{}]}, "mark": {"type": "text", "font": "DejaVu Sans", "fontSize": 18, "fontWeight": "bold", "color": "#000000", "align": "center", "baseline": "middle"},
         "encoding": {"x": {"datum": {"year": 2017, "month": 11, "date": 9, "utc": true}, "type": "temporal", "title": null}, "y": {"datum": 1972, "type": "quantitative", "title": "CH4 [ppb]"}, "text": {"value": "A"}}}
      ]
    },
    {
      "title": "Sodankyla",
      "width": 376, "height": 291,
      "view": {"stroke": null},
      "layer": [
        {"data": {"name": "sod_tccon"}, "mark": {"type": "errorbar", "color": "#8ccbea", "thickness": 1.5},
         "encoding": {
           "x": {"field": "d", "type": "temporal", "title": null,
                 "scale": {"type": "utc", "domain": [{"year": 2017, "month": 7, "date": 28, "utc": true}, {"year": 2021, "month": 11, "date": 6, "utc": true}]},
                 "axis": {"values": [{"year": 2018, "month": 1, "date": 1, "utc": true}, {"year": 2018, "month": 7, "date": 1, "utc": true}, {"year": 2019, "month": 1, "date": 1, "utc": true}, {"year": 2019, "month": 7, "date": 1, "utc": true}, {"year": 2020, "month": 1, "date": 1, "utc": true}, {"year": 2020, "month": 7, "date": 1, "utc": true}, {"year": 2021, "month": 1, "date": 1, "utc": true}, {"year": 2021, "month": 7, "date": 1, "utc": true}],
                          "format": "%m.%y", "labelAngle": -10, "labelAlign": "center", "labelBaseline": "top", "labelPadding": 6, "labelOverlap": false, "labelFlush": false}},
           "y": {"field": "v", "type": "quantitative", "title": "CH4 [ppb]",
                 "scale": {"domain": [1700, 2000], "nice": false, "zero": false, "clamp": true},
                 "axis": {"values": [1700, 1750, 1800, 1850, 1900, 1950, 2000], "format": "d", "labelPadding": 3, "titlePadding": 8}},
           "yError": {"field": "e"}}},
        {"data": {"name": "sod_tccon"}, "mark": {"type": "line", "color": "#8ccbea", "strokeWidth": 1.5, "strokeDash": [5, 4]},
         "encoding": {"x": {"field": "d", "type": "temporal", "title": null}, "y": {"field": "v", "type": "quantitative", "title": "CH4 [ppb]"}}},
        {"data": {"name": "sod_tccon"}, "mark": {"type": "point", "shape": "circle", "filled": true, "size": 36, "fill": "#65a9d6", "stroke": "#3373b5", "strokeWidth": 1, "opacity": 1},
         "encoding": {"x": {"field": "d", "type": "temporal", "title": null}, "y": {"field": "v", "type": "quantitative", "title": "CH4 [ppb]"}}},
        {"data": {"name": "sod_b"}, "mark": {"type": "errorbar", "color": "#cf6474", "thickness": 1.8, "opacity": 0.85},
         "encoding": {"x": {"field": "d", "type": "temporal", "title": null}, "y": {"field": "v", "type": "quantitative", "title": "CH4 [ppb]"}, "yError": {"field": "e"}}},
        {"data": {"name": "sod_b"}, "mark": {"type": "point", "shape": "circle", "filled": true, "size": 36, "fill": "#c33f48", "stroke": "#951a24", "strokeWidth": 1, "opacity": 1},
         "encoding": {"x": {"field": "d", "type": "temporal", "title": null}, "y": {"field": "v", "type": "quantitative", "title": "CH4 [ppb]"}}},
        {"data": {"values": [{}]}, "mark": {"type": "rule", "color": "#222222", "strokeWidth": 1},
         "encoding": {"y": {"datum": 2000, "type": "quantitative", "title": "CH4 [ppb]"}}},
        {"data": {"name": "legend_items"}, "mark": {"type": "point", "opacity": 0, "filled": true},
         "encoding": {
           "shape": {"field": "src", "type": "nominal", "scale": {"domain": ["TCCON", "TROPOMI"], "range": ["M-1.76,0H-1.18M-0.82,0H-0.41M0.41,0H0.82M1.18,0H1.76M-0.3,0A0.3,0.3,0,1,0,0.3,0A0.3,0.3,0,1,0,-0.3,0Z", "M0,-1V1M-0.3,0A0.3,0.3,0,1,0,0.3,0A0.3,0.3,0,1,0,-0.3,0Z"]}, "legend": {"title": null}},
           "fill": {"field": "src", "type": "nominal", "scale": {"domain": ["TCCON", "TROPOMI"], "range": ["#65a9d6", "#c33f48"]}, "legend": {"title": null}},
           "stroke": {"field": "src", "type": "nominal", "scale": {"domain": ["TCCON", "TROPOMI"], "range": ["#7dbde4", "#cf5a66"]}, "legend": {"title": null}}}},
        {"data": {"values": [{}]}, "mark": {"type": "text", "font": "DejaVu Sans", "fontSize": 18, "fontWeight": "bold", "color": "#000000", "align": "center", "baseline": "middle"},
         "encoding": {"x": {"datum": {"year": 2017, "month": 11, "date": 9, "utc": true}, "type": "temporal", "title": null}, "y": {"datum": 1972, "type": "quantitative", "title": "CH4 [ppb]"}, "text": {"value": "B"}}}
      ]
    },
    {
      "title": "Wollongong",
      "width": 391, "height": 291,
      "layer": [
        {"data": {"name": "wol_tccon"}, "mark": {"type": "errorbar", "color": "#8ccbea", "thickness": 1.5},
         "encoding": {
           "x": {"field": "d", "type": "temporal", "title": null,
                 "scale": {"type": "utc", "domain": [{"year": 2017, "month": 7, "date": 28, "utc": true}, {"year": 2021, "month": 12, "date": 30, "utc": true}]},
                 "axis": {"values": [{"year": 2018, "month": 1, "date": 1, "utc": true}, {"year": 2018, "month": 7, "date": 1, "utc": true}, {"year": 2019, "month": 1, "date": 1, "utc": true}, {"year": 2019, "month": 7, "date": 1, "utc": true}, {"year": 2020, "month": 1, "date": 1, "utc": true}, {"year": 2020, "month": 7, "date": 1, "utc": true}, {"year": 2021, "month": 1, "date": 1, "utc": true}, {"year": 2021, "month": 7, "date": 1, "utc": true}],
                          "format": "%m.%y", "labelAngle": -10, "labelAlign": "center", "labelBaseline": "top", "labelPadding": 6, "labelOverlap": false, "labelFlush": false}},
           "y": {"field": "v", "type": "quantitative", "title": "CH4 [ppb]",
                 "scale": {"domain": [1700, 2000], "nice": false, "zero": false, "clamp": true},
                 "axis": {"values": [1700, 1750, 1800, 1850, 1900, 1950, 2000], "format": "d", "labelPadding": 3, "titlePadding": 8}},
           "yError": {"field": "e"}}},
        {"data": {"name": "wol_tccon"}, "mark": {"type": "line", "color": "#8ccbea", "strokeWidth": 1.5, "strokeDash": [5, 4]},
         "encoding": {"x": {"field": "d", "type": "temporal", "title": null}, "y": {"field": "v", "type": "quantitative", "title": "CH4 [ppb]"}}},
        {"data": {"name": "wol_tccon"}, "mark": {"type": "point", "shape": "circle", "filled": true, "size": 36, "fill": "#65a9d6", "stroke": "#3373b5", "strokeWidth": 1, "opacity": 1},
         "encoding": {"x": {"field": "d", "type": "temporal", "title": null}, "y": {"field": "v", "type": "quantitative", "title": "CH4 [ppb]"}}},
        {"data": {"name": "wol_a"}, "mark": {"type": "errorbar", "color": "#cf6474", "thickness": 1.8, "opacity": 0.85},
         "encoding": {"x": {"field": "d", "type": "temporal", "title": null}, "y": {"field": "v", "type": "quantitative", "title": "CH4 [ppb]"}, "yError": {"field": "e"}}},
        {"data": {"name": "wol_a"}, "mark": {"type": "point", "shape": "circle", "filled": true, "size": 36, "fill": "#c33f48", "stroke": "#951a24", "strokeWidth": 1, "opacity": 1},
         "encoding": {"x": {"field": "d", "type": "temporal", "title": null}, "y": {"field": "v", "type": "quantitative", "title": "CH4 [ppb]"}}},
        {"data": {"name": "legend_items"}, "mark": {"type": "point", "opacity": 0, "filled": true},
         "encoding": {
           "shape": {"field": "src", "type": "nominal", "scale": {"domain": ["TCCON", "TROPOMI"], "range": ["M-1.76,0H-1.18M-0.82,0H-0.41M0.41,0H0.82M1.18,0H1.76M-0.3,0A0.3,0.3,0,1,0,0.3,0A0.3,0.3,0,1,0,-0.3,0Z", "M0,-1V1M-0.3,0A0.3,0.3,0,1,0,0.3,0A0.3,0.3,0,1,0,-0.3,0Z"]}, "legend": {"title": null}},
           "fill": {"field": "src", "type": "nominal", "scale": {"domain": ["TCCON", "TROPOMI"], "range": ["#65a9d6", "#c33f48"]}, "legend": {"title": null}},
           "stroke": {"field": "src", "type": "nominal", "scale": {"domain": ["TCCON", "TROPOMI"], "range": ["#7dbde4", "#cf5a66"]}, "legend": {"title": null}}}},
        {"data": {"values": [{}]}, "mark": {"type": "text", "font": "DejaVu Sans", "fontSize": 18, "fontWeight": "bold", "color": "#000000", "align": "center", "baseline": "middle"},
         "encoding": {"x": {"datum": {"year": 2017, "month": 11, "date": 9, "utc": true}, "type": "temporal", "title": null}, "y": {"datum": 1972, "type": "quantitative", "title": "CH4 [ppb]"}, "text": {"value": "A"}}}
      ]
    },
    {
      "title": "Wollongong",
      "width": 376, "height": 291,
      "view": {"stroke": null},
      "layer": [
        {"data": {"name": "wol_tccon"}, "mark": {"type": "errorbar", "color": "#8ccbea", "thickness": 1.5},
         "encoding": {
           "x": {"field": "d", "type": "temporal", "title": null,
                 "scale": {"type": "utc", "domain": [{"year": 2017, "month": 7, "date": 28, "utc": true}, {"year": 2021, "month": 11, "date": 6, "utc": true}]},
                 "axis": {"values": [{"year": 2018, "month": 1, "date": 1, "utc": true}, {"year": 2018, "month": 7, "date": 1, "utc": true}, {"year": 2019, "month": 1, "date": 1, "utc": true}, {"year": 2019, "month": 7, "date": 1, "utc": true}, {"year": 2020, "month": 1, "date": 1, "utc": true}, {"year": 2020, "month": 7, "date": 1, "utc": true}, {"year": 2021, "month": 1, "date": 1, "utc": true}, {"year": 2021, "month": 7, "date": 1, "utc": true}],
                          "format": "%m.%y", "labelAngle": -10, "labelAlign": "center", "labelBaseline": "top", "labelPadding": 6, "labelOverlap": false, "labelFlush": false}},
           "y": {"field": "v", "type": "quantitative", "title": "CH4 [ppb]",
                 "scale": {"domain": [1700, 2000], "nice": false, "zero": false, "clamp": true},
                 "axis": {"values": [1700, 1750, 1800, 1850, 1900, 1950, 2000], "format": "d", "labelPadding": 3, "titlePadding": 8}},
           "yError": {"field": "e"}}},
        {"data": {"name": "wol_tccon"}, "mark": {"type": "line", "color": "#8ccbea", "strokeWidth": 1.5, "strokeDash": [5, 4]},
         "encoding": {"x": {"field": "d", "type": "temporal", "title": null}, "y": {"field": "v", "type": "quantitative", "title": "CH4 [ppb]"}}},
        {"data": {"name": "wol_tccon"}, "mark": {"type": "point", "shape": "circle", "filled": true, "size": 36, "fill": "#65a9d6", "stroke": "#3373b5", "strokeWidth": 1, "opacity": 1},
         "encoding": {"x": {"field": "d", "type": "temporal", "title": null}, "y": {"field": "v", "type": "quantitative", "title": "CH4 [ppb]"}}},
        {"data": {"name": "wol_b"}, "mark": {"type": "errorbar", "color": "#cf6474", "thickness": 1.8, "opacity": 0.85},
         "encoding": {"x": {"field": "d", "type": "temporal", "title": null}, "y": {"field": "v", "type": "quantitative", "title": "CH4 [ppb]"}, "yError": {"field": "e"}}},
        {"data": {"name": "wol_b"}, "mark": {"type": "point", "shape": "circle", "filled": true, "size": 36, "fill": "#c33f48", "stroke": "#951a24", "strokeWidth": 1, "opacity": 1},
         "encoding": {"x": {"field": "d", "type": "temporal", "title": null}, "y": {"field": "v", "type": "quantitative", "title": "CH4 [ppb]"}}},
        {"data": {"values": [{}]}, "mark": {"type": "rule", "color": "#222222", "strokeWidth": 1},
         "encoding": {"y": {"datum": 2000, "type": "quantitative", "title": "CH4 [ppb]"}}},
        {"data": {"name": "legend_items"}, "mark": {"type": "point", "opacity": 0, "filled": true},
         "encoding": {
           "shape": {"field": "src", "type": "nominal", "scale": {"domain": ["TCCON", "TROPOMI"], "range": ["M-1.76,0H-1.18M-0.82,0H-0.41M0.41,0H0.82M1.18,0H1.76M-0.3,0A0.3,0.3,0,1,0,0.3,0A0.3,0.3,0,1,0,-0.3,0Z", "M0,-1V1M-0.3,0A0.3,0.3,0,1,0,0.3,0A0.3,0.3,0,1,0,-0.3,0Z"]}, "legend": {"title": null}},
           "fill": {"field": "src", "type": "nominal", "scale": {"domain": ["TCCON", "TROPOMI"], "range": ["#65a9d6", "#c33f48"]}, "legend": {"title": null}},
           "stroke": {"field": "src", "type": "nominal", "scale": {"domain": ["TCCON", "TROPOMI"], "range": ["#7dbde4", "#cf5a66"]}, "legend": {"title": null}}}},
        {"data": {"values": [{}]}, "mark": {"type": "text", "font": "DejaVu Sans", "fontSize": 18, "fontWeight": "bold", "color": "#000000", "align": "center", "baseline": "middle"},
         "encoding": {"x": {"datum": {"year": 2017, "month": 11, "date": 9, "utc": true}, "type": "temporal", "title": null}, "y": {"datum": 1972, "type": "quantitative", "title": "CH4 [ppb]"}, "text": {"value": "B"}}}
      ]
    }
  ]
}
